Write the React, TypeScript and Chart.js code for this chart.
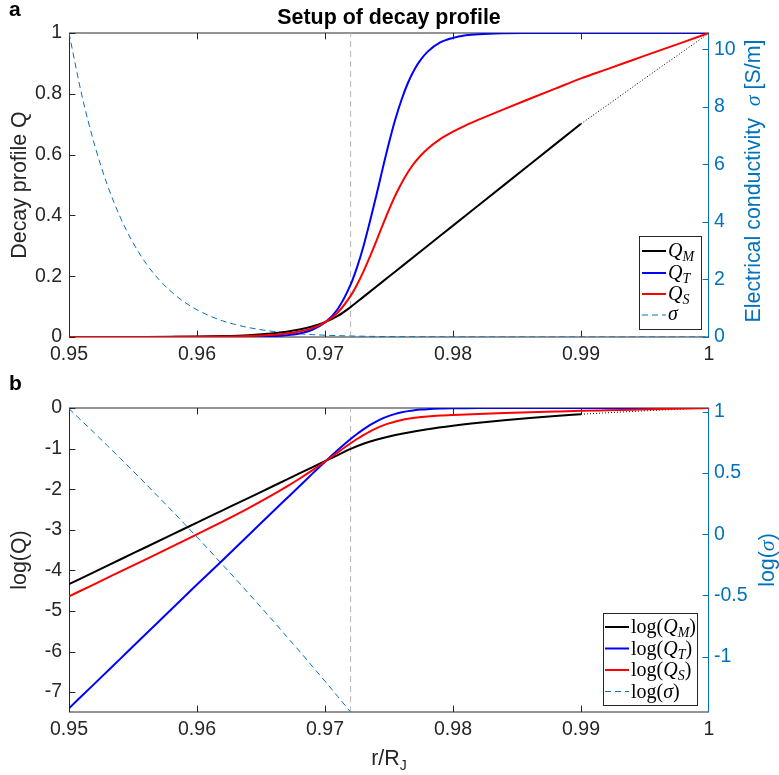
import React, { useEffect, useRef } from "react";
import { Chart, registerables } from "chart.js";

Chart.register(...registerables);

// ---------------- data ----------------
const R_FINE = [0.950, 0.952, 0.954, 0.956, 0.958, 0.960, 0.962, 0.964, 0.966, 0.967, 0.968, 0.969, 0.970, 0.971, 0.972, 0.9725, 0.973, 0.9735, 0.974, 0.9745, 0.975, 0.9755, 0.976, 0.9765, 0.977, 0.9775, 0.978, 0.979, 0.980, 0.981, 0.982, 0.984, 0.986, 0.988, 0.990, 0.992, 0.994, 0.996, 0.998, 1.000];

const Q_T = [4.0e-8, 1.62e-7, 6.6e-7, 2.69e-6, 1.10e-5, 4.47e-5, 1.78e-4, 7.24e-4, 2.95e-3, 5.9e-3, 0.0118, 0.0238, 0.0474, 0.0923, 0.172, 0.229, 0.298, 0.378, 0.464, 0.553, 0.639, 0.717, 0.783, 0.838, 0.881, 0.913, 0.938, 0.969, 0.984, 0.9923, 0.9962, 0.9991, 0.9998, 1.0, 1.0, 1.0, 1.0, 1.0, 1.0, 1.0];

const Q_S = [2.29e-5, 4.60e-5, 9.28e-5, 1.869e-4, 3.78e-4, 7.72e-4, 1.594e-3, 3.382e-3, 7.54e-3, 0.01154, 0.01809, 0.02916, 0.04819, 0.0808, 0.1352, 0.1721, 0.2150, 0.2634, 0.3147, 0.3676, 0.4190, 0.4664, 0.5077, 0.5436, 0.5735, 0.5979, 0.6187, 0.6510, 0.6752, 0.6961, 0.7148, 0.7498, 0.7836, 0.8172, 0.8507, 0.8805, 0.9105, 0.9405, 0.9700, 1.0];

const R_M = [0.950, 0.952, 0.954, 0.956, 0.958, 0.960, 0.962, 0.964, 0.966, 0.967, 0.968, 0.969, 0.970, 0.971, 0.972, 0.973, 0.974, 0.975, 0.976, 0.978, 0.980, 0.982, 0.984, 0.986, 0.988, 0.990];
const Q_M = [4.57e-5, 9.18e-5, 1.85e-4, 3.71e-4, 7.45e-4, 1.50e-3, 3.01e-3, 6.04e-3, 0.01213, 0.01718, 0.02438, 0.03451, 0.04898, 0.06934, 0.0984, 0.1319, 0.1654, 0.1989, 0.2324, 0.2994, 0.3664, 0.4334, 0.5004, 0.5674, 0.6344, 0.7014];

const R_M_EXT = [0.990, 0.992, 0.994, 0.996, 0.998, 1.000];
const Q_M_EXT = [0.7014, 0.761, 0.821, 0.881, 0.940, 1.0];

const R_SIG = [0.950, 0.951, 0.952, 0.953, 0.954, 0.955, 0.956, 0.957, 0.958, 0.959, 0.960, 0.961, 0.962, 0.963, 0.964, 0.965, 0.966, 0.967, 0.968, 0.969, 0.970, 0.971, 0.972];
const SIGMA = [10.57, 8.41, 6.68, 5.28, 4.17, 3.28, 2.57, 2.01, 1.57, 1.22, 0.946, 0.731, 0.562, 0.433, 0.331, 0.253, 0.193, 0.146, 0.111, 0.0836, 0.0630, 0.0472, 0.0353];
const R_SIG_TAIL = [0.975, 0.980, 0.990, 1.000];
const SIGMA_TAIL = [0.015, 0.004, 0.0005, 0.0001];

const R_DIVIDE = 0.972;

const X_TICKS = [0.95, 0.96, 0.97, 0.98, 0.99, 1];
const X_LABELS = ["0.95", "0.96", "0.97", "0.98", "0.99", "1"];
const A_LEFT_TICKS = [0, 0.2, 0.4, 0.6, 0.8, 1];
const A_LEFT_LABELS = ["0", "0.2", "0.4", "0.6", "0.8", "1"];
const A_RIGHT_TICKS = [0, 2, 4, 6, 8, 10];
const A_RIGHT_LABELS = ["0", "2", "4", "6", "8", "10"];
const B_LEFT_TICKS = [0, -1, -2, -3, -4, -5, -6, -7];
const B_LEFT_LABELS = ["0", "-1", "-2", "-3", "-4", "-5", "-6", "-7"];
const B_RIGHT_TICKS = [1, 0.5, 0, -0.5, -1];
const B_RIGHT_LABELS = ["1", "0.5", "0", "-0.5", "-1"];

// ---------------- style ----------------
const SANS = '"Liberation Sans", Arial, Helvetica, sans-serif';
const SERIF = '"Liberation Serif", "Times New Roman", serif';
const AX = "#262626";
const BLUE_AX = "#0072BD";
const TL = 6.4;
const TICK_FONT = `19.5px ${SANS}`;
const LABEL_PX = 21.4;

type Seg = { t: string; f: string; dy?: number };

function richWidth(ctx: CanvasRenderingContext2D, segs: Seg[]) {
  let w = 0;
  for (const s of segs) {
    ctx.font = s.f;
    w += ctx.measureText(s.t).width;
  }
  return w;
}

function drawRich(ctx: CanvasRenderingContext2D, segs: Seg[], x: number, y: number, align: string, rot = 0, color = AX) {
  ctx.save();
  ctx.translate(x, y);
  ctx.rotate(rot);
  ctx.fillStyle = color;
  ctx.textAlign = "left";
  ctx.textBaseline = "alphabetic";
  const w = richWidth(ctx, segs);
  let cx = align === "left" ? 0 : align === "center" ? -w / 2 : -w;
  for (const s of segs) {
    ctx.font = s.f;
    ctx.fillText(s.t, cx, s.dy || 0);
    cx += ctx.measureText(s.t).width;
  }
  ctx.restore();
}

function seg(x: number[], y: number[], log = false) {
  return x.map((v, i) => ({ x: v, y: log ? Math.log10(y[i]) : y[i] }));
}

function line(ctx: CanvasRenderingContext2D, x1: number, y1: number, x2: number, y2: number) {
  ctx.beginPath();
  ctx.moveTo(x1, y1);
  ctx.lineTo(x2, y2);
  ctx.stroke();
}

type Spec = {
  leftTicks: number[];
  leftLabels: string[];
  rightTicks: number[];
  rightLabels: string[];
  extra: (ctx: CanvasRenderingContext2D, a: any) => void;
};

function framePlugin(spec: Spec) {
  return {
    id: "frame",
    beforeDatasetsDraw(chart: any) {
      const { ctx, chartArea: a, scales } = chart;
      ctx.save();
      ctx.strokeStyle = "#707070";
      ctx.lineWidth = 1.3;
      line(ctx, a.left, a.top, a.right, a.top);
      line(ctx, a.left, a.bottom, a.right, a.bottom);
      ctx.strokeStyle = AX;
      ctx.lineWidth = 1;
      for (const t of X_TICKS.slice(1, -1)) {
        const px = Math.round(scales.x.getPixelForValue(t)) + 0.5;
        line(ctx, px, a.bottom, px, a.bottom - TL);
        line(ctx, px, a.top, px, a.top + TL);
      }
      line(ctx, a.left + 0.5, a.top, a.left + 0.5, a.bottom);
      for (const t of spec.leftTicks) {
        const py = Math.round(scales.y.getPixelForValue(t)) + 0.5;
        line(ctx, a.left, py, a.left + TL, py);
      }
      ctx.strokeStyle = BLUE_AX;
      line(ctx, a.right - 0.5, a.top, a.right - 0.5, a.bottom);
      for (const t of spec.rightTicks) {
        const py = Math.round(scales.y2.getPixelForValue(t)) + 0.5;
        line(ctx, a.right, py, a.right - TL, py);
      }
      ctx.restore();
    },
    afterDatasetsDraw(chart: any) {
      const { ctx, chartArea: a, scales } = chart;
      ctx.save();
      ctx.font = TICK_FONT;
      ctx.textBaseline = "middle";
      ctx.fillStyle = AX;
      ctx.textAlign = "center";
      X_TICKS.forEach((t, i) => ctx.fillText(X_LABELS[i], scales.x.getPixelForValue(t), a.bottom + 18));
      ctx.textAlign = "right";
      spec.leftTicks.forEach((t, i) => ctx.fillText(spec.leftLabels[i], a.left - 7, scales.y.getPixelForValue(t)));
      ctx.textAlign = "left";
      ctx.fillStyle = BLUE_AX;
      spec.rightTicks.forEach((t, i) => ctx.fillText(spec.rightLabels[i], a.right + 5, scales.y2.getPixelForValue(t)));
      ctx.restore();
      spec.extra(ctx, a);
    },
  };
}

function legendBox(ctx: CanvasRenderingContext2D, x1: number, y1: number, x2: number, y2: number) {
  ctx.save();
  ctx.fillStyle = "#ffffff";
  ctx.fillRect(x1, y1, x2 - x1, y2 - y1);
  ctx.strokeStyle = AX;
  ctx.lineWidth = 1;
  ctx.strokeRect(x1 + 0.5, y1 + 0.5, x2 - x1, y2 - y1);
  ctx.restore();
}

function legendLine(ctx: CanvasRenderingContext2D, x1: number, x2: number, y: number, color: string, w: number, dash: number[]) {
  ctx.save();
  ctx.strokeStyle = color;
  ctx.lineWidth = w;
  ctx.setLineDash(dash);
  line(ctx, x1, y, x2, y);
  ctx.restore();
}

const QF = `italic 20px ${SERIF}`;
const SUBF = `italic 14px ${SERIF}`;
const RMF = `20px ${SERIF}`;
const LBL = `${LABEL_PX}px ${SANS}`;

function qSegs(sub: string, log: boolean): Seg[] {
  const core: Seg[] = [
    { t: "Q", f: QF },
    { t: sub, f: SUBF, dy: 4 },
  ];
  return log ? [{ t: "log(", f: RMF }, ...core, { t: ")", f: RMF }] : core;
}

const ENTRIES = [
  { sub: "M", color: "#000000", w: 2, dash: [] as number[] },
  { sub: "T", color: "#0000ff", w: 2, dash: [] as number[] },
  { sub: "S", color: "#ff0000", w: 2, dash: [] as number[] },
];

function extraA(ctx: CanvasRenderingContext2D, a: any) {
  drawRich(ctx, [{ t: "Setup of decay profile", f: `bold ${LABEL_PX}px ${SANS}` }], (a.left + a.right) / 2, 24, "center", 0, "#000");
  drawRich(ctx, [{ t: "a", f: `bold 21px ${SANS}` }], 9, 16, "left", 0, "#000");
  drawRich(ctx, [{ t: "Decay profile Q", f: LBL }], 26, 185, "center", -Math.PI / 2);
  drawRich(
    ctx,
    [
      { t: "Electrical conductivity  ", f: LBL },
      { t: "σ", f: `italic 22px ${SERIF}` },
      { t: " [S/m]", f: LBL },
    ],
    760,
    181,
    "center",
    -Math.PI / 2,
    BLUE_AX
  );
  legendBox(ctx, 639, 236, 701, 329);
  const rows = [251, 273, 294, 315];
  ENTRIES.forEach((e, i) => {
    legendLine(ctx, 642, 666, rows[i], e.color, e.w, e.dash);
    drawRich(ctx, qSegs(e.sub, false), 668, rows[i] + 6, "left", 0, "#000");
  });
  legendLine(ctx, 642, 666, rows[3], BLUE_AX, 1, [6, 4]);
  drawRich(ctx, [{ t: "σ", f: QF }], 668, rows[3] + 5, "left", 0, "#000");
}

function extraB(ctx: CanvasRenderingContext2D, a: any) {
  drawRich(ctx, [{ t: "b", f: `bold 21px ${SANS}` }], 9, 15, "left", 0, "#000");
  drawRich(ctx, [{ t: "log(Q)", f: LBL }], 26, 185, "center", -Math.PI / 2);
  drawRich(
    ctx,
    [
      { t: "log(", f: LBL },
      { t: "σ", f: `italic 22px ${SERIF}` },
      { t: ")", f: LBL },
    ],
    774,
    185,
    "center",
    -Math.PI / 2,
    BLUE_AX
  );
  drawRich(
    ctx,
    [
      { t: "r/R", f: LBL },
      { t: "J", f: `14px ${SANS}`, dy: 5 },
    ],
    (a.left + a.right) / 2,
    390,
    "center"
  );
  legendBox(ctx, 603, 238, 697, 330);
  const rows = [252, 273.5, 295, 316.5];
  ENTRIES.forEach((e, i) => {
    legendLine(ctx, 605, 629, rows[i], e.color, e.w, e.dash);
    drawRich(ctx, qSegs(e.sub, true), 631, rows[i] + 6, "left", 0, "#000");
  });
  legendLine(ctx, 605, 629, rows[3], BLUE_AX, 1, [6, 4]);
  drawRich(
    ctx,
    [
      { t: "log(", f: RMF },
      { t: "σ", f: QF },
      { t: ")", f: RMF },
    ],
    631,
    rows[3] + 6,
    "left",
    0,
    "#000"
  );
}

function ds(data: any[], color: string, width: number, axis: string, order: number, dash: number[] = []) {
  return {
    data,
    borderColor: color,
    borderWidth: width,
    borderDash: dash,
    yAxisID: axis,
    pointRadius: 0,
    fill: false,
    cubicInterpolationMode: "monotone" as const,
    order,
  };
}

function makeConfig(panel: "a" | "b") {
  const log = panel === "b";
  const datasets: any[] = [];
  const yMin = log ? -7.49 : 0;
  const yMax = log ? 0 : 1;
  datasets.push(ds([{ x: R_DIVIDE, y: yMin }, { x: R_DIVIDE, y: yMax }], "#b4b4b4", 1, "y", 9, [6, 4]));
  datasets.push(ds(seg(R_FINE, Q_S, log), "#ff0000", 2, "y", 0));
  datasets.push(ds(seg(R_FINE, Q_T, log), "#0000ff", 2, "y", 1));
  datasets.push(ds(seg(R_M, Q_M, log), "#000000", 2, "y", 2));
  datasets.push(ds(seg(R_M_EXT, Q_M_EXT, log), "#000000", 1, "y", 3, [1, 2]));
  if (log) {
    datasets.push(ds(seg(R_SIG, SIGMA, true), BLUE_AX, 1, "y2", 4, [6, 4]));
  } else {
    datasets.push(ds(seg([...R_SIG, ...R_SIG_TAIL], [...SIGMA, ...SIGMA_TAIL]), BLUE_AX, 1, "y2", 4, [6, 4]));
  }
  const spec: Spec = log
    ? { leftTicks: B_LEFT_TICKS, leftLabels: B_LEFT_LABELS, rightTicks: B_RIGHT_TICKS, rightLabels: B_RIGHT_LABELS, extra: extraB }
    : { leftTicks: A_LEFT_TICKS, leftLabels: A_LEFT_LABELS, rightTicks: A_RIGHT_TICKS, rightLabels: A_RIGHT_LABELS, extra: extraA };
  return {
    type: "line" as const,
    data: { datasets },
    options: {
      responsive: false,
      animation: false as const,
      devicePixelRatio: 1,
      events: [] as any[],
      layout: { padding: log ? { left: 69, right: 70, top: 33, bottom: 63 } : { left: 69, right: 70, top: 33, bottom: 38 } },
      plugins: { legend: { display: false }, title: { display: false }, tooltip: { enabled: false } },
      scales: {
        x: { type: "linear" as const, min: 0.95, max: 1, display: false },
        y: { type: "linear" as const, min: yMin, max: yMax, display: false },
        y2: { type: "linear" as const, min: log ? -1.452 : 0, max: log ? 1.03 : 10.57, display: false, position: "right" as const },
      },
    },
    plugins: [framePlugin(spec)],
  };
}

function Panel({ panel, top, height }: { panel: "a" | "b"; top: number; height: number }) {
  const ref = useRef<HTMLCanvasElement>(null);
  useEffect(() => {
    if (!ref.current) return;
    const chart = new Chart(ref.current, makeConfig(panel) as any);
    return () => chart.destroy();
  }, [panel]);
  return <canvas ref={ref} width={779} height={height} style={{ position: "absolute", left: 0, top, width: 779, height }} />;
}

export default function App() {
  return (
    <div style={{ position: "absolute", left: 0, top: 0, width: 779, height: 775, background: "#ffffff" }}>
      <Panel panel="a" top={0} height={375} />
      <Panel panel="b" top={375} height={400} />
    </div>
  );
}
